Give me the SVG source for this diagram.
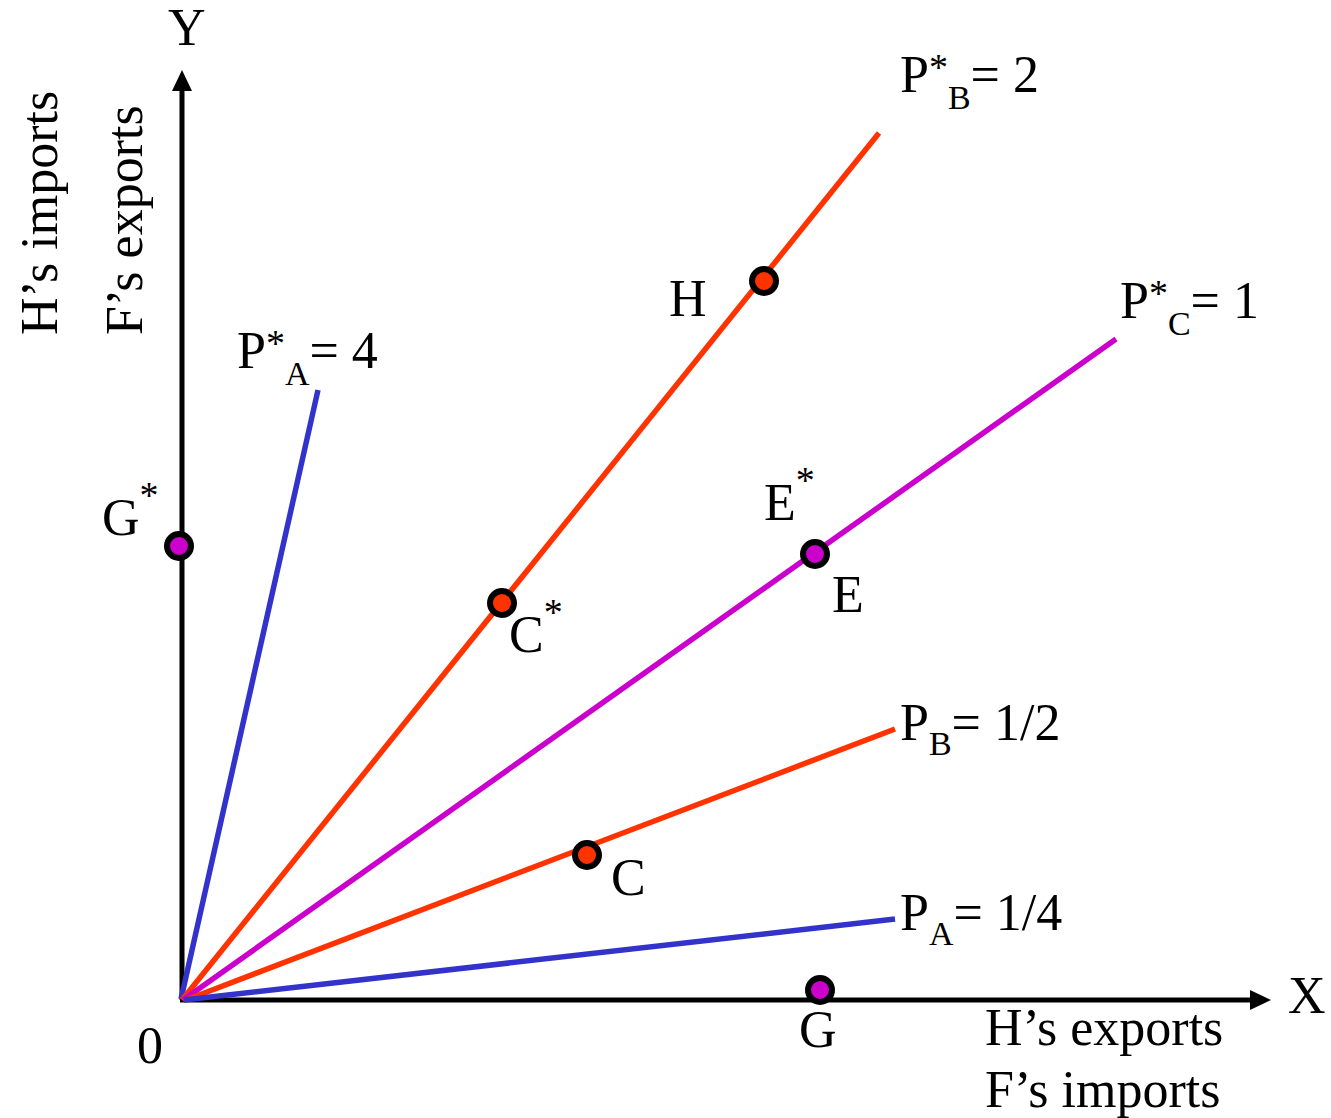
<svg xmlns="http://www.w3.org/2000/svg" width="1331" height="1118" viewBox="0 0 1331 1118">
<style>
text{font-family:"Liberation Serif","Times New Roman",serif;font-size:52px;fill:#000}
.s{font-size:34px}
.st{font-size:38px}
.ax{stroke:#000;stroke-width:5;fill:none}
.red{stroke:#FF3300;stroke-width:5.5;fill:none}
.mag{stroke:#CC00CC;stroke-width:5.5;fill:none}
.blue{stroke:#3333CC;stroke-width:5.5;fill:none}
.pr{fill:#FF3300;stroke:#000;stroke-width:6}
.pm{fill:#CC00CC;stroke:#000;stroke-width:6}
</style>
<rect width="1331" height="1118" fill="#fff"/>
<g id="axes">
<line class="ax" x1="182" y1="1000" x2="182" y2="86"/>
<polygon points="182,70 172,91 192,91" fill="#000"/>
<line class="ax" x1="180" y1="1000" x2="1252" y2="1000"/>
<polygon points="1271,1000 1250,990 1250,1010" fill="#000"/>
</g>
<g id="connectors">
<line class="blue" x1="181" y1="999" x2="318" y2="390"/>
<line class="red" x1="182" y1="1000" x2="879" y2="133"/>
<line class="mag" x1="183" y1="1000" x2="1116" y2="339"/>
<line class="red" x1="186" y1="1000" x2="895" y2="729"/>
<line class="blue" x1="184" y1="1000" x2="895" y2="919"/>
</g>
<g id="labels-axes">
<text x="168" y="45">Y</text>
<text x="1288" y="1013">X</text>
<text x="137" y="1063">0</text>
<text transform="translate(57,335) rotate(-90)">H’s imports</text>
<text transform="translate(142,335) rotate(-90)">F’s exports</text>
<text x="985" y="1045">H’s exports</text>
<text x="985" y="1107">F’s imports</text>
</g>
<g id="label-PA-star"><text x="237" y="368">P<tspan class="st" dy="-12">*</tspan><tspan class="s" dy="29">A</tspan><tspan dy="-17">= 4</tspan></text></g>
<g id="label-PB-star"><text x="900" y="92">P<tspan class="st" dy="-12">*</tspan><tspan class="s" dy="29">B</tspan><tspan dy="-17">= 2</tspan></text></g>
<g id="label-PC-star"><text x="1120" y="318">P<tspan class="st" dy="-12">*</tspan><tspan class="s" dy="29">C</tspan><tspan dy="-17">= 1</tspan></text></g>
<g id="label-PB"><text x="900" y="740">P<tspan class="s" dy="15">B</tspan><tspan dy="-15">= 1/2</tspan></text></g>
<g id="label-PA"><text x="900" y="930">P<tspan class="s" dy="15">A</tspan><tspan dy="-15">= 1/4</tspan></text></g>
<g id="H"><circle class="pr" cx="764" cy="281" r="12"/><text x="669" y="316">H</text></g>
<g id="Cstar"><circle class="pr" cx="502" cy="603" r="12"/><text x="509" y="652">C<tspan class="st" dy="-27">*</tspan></text></g>
<g id="E"><circle class="pm" cx="815" cy="554" r="12"/><text x="764" y="520">E<tspan class="st" dy="-27">*</tspan></text><text x="832" y="612">E</text></g>
<g id="C"><circle class="pr" cx="587" cy="855" r="12"/><text x="611" y="895">C</text></g>
<g id="Gstar"><circle class="pm" cx="179" cy="546" r="12"/><text x="102" y="535">G<tspan class="st" dy="-27">*</tspan></text></g>
<g id="G"><circle class="pm" cx="820" cy="990" r="12"/><text x="799" y="1047">G</text></g>
</svg>
